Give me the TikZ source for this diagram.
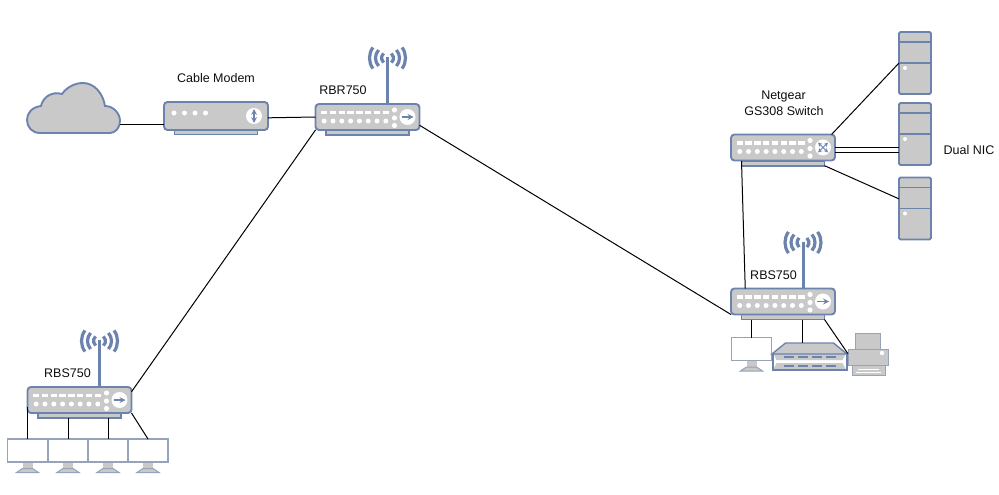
\documentclass[tikz,border=0pt]{standalone}
\usepackage{fontspec}
\setmainfont{Liberation Sans}
\definecolor{devblue}{HTML}{6C83AE}
\definecolor{devgray}{HTML}{C9C9C9}
\definecolor{monedge}{HTML}{97A3BB}
\tikzset{
  devbody/.style={draw=devblue,fill=devgray,line width=1.9pt,rounded corners=3.5pt,minimum width=104pt,minimum height=26pt,inner sep=0pt,outer sep=0pt},
  devbase/.style={draw=devblue,fill=devgray,line width=1.2pt,minimum width=83pt,minimum height=5pt,inner sep=0pt,outer sep=0pt},
  label/.style={font=\fontsize{12.5}{15}\selectfont,text=black!95,inner sep=0pt},
  link/.style={draw=black,line width=1pt},
  whitedot/.style={fill=white,draw=none},
  antenna/.style={draw=devblue,line width=3.2pt},
  portpanel/.pic={
    \foreach \i in {0,...,7} {
      \fill[whitedot] (-46.5+\i*8.8,-6.5) rectangle ++(6.4,3.6);
      \fill[whitedot] (-43.3+\i*8.8,4) circle (2.5pt);
    }
    \foreach \j in {-7,1,8.5} {\fill[whitedot] (27,\j) circle (2.6pt);}
  },
  switchdev/.pic={
    \node[devbase] (-base) at (0,16) {};
    \node[devbody] (-body) at (0,0) {};
    \pic {portpanel};
    \fill[white] (40,0) circle (8pt);
    \draw[devblue,line width=0.9pt,<->,>=stealth] (35,-5) -- (45,5);
    \draw[devblue,line width=0.9pt,<->,>=stealth] (35,5) -- (45,-5);
  },
  routerdev/.pic={
    \draw[devblue,line width=3pt] (20,-13) -- (20,-60);
    \foreach \r/\a in {6/50,12/42,18/36} {
      \draw[antenna] ([shift={(180-\a:\r pt)}]20,-59) arc[start angle=180-\a,end angle=180+\a,radius=\r pt];
      \draw[antenna] ([shift={(-\a:\r pt)}]20,-59) arc[start angle=-\a,end angle=\a,radius=\r pt];
    }
    \node[devbase] (-base) at (0,15.5) {};
    \node[devbody] (-body) at (0,0) {};
    \pic {portpanel};
    \fill[white] (40,0) circle (8pt);
    \draw[devblue,line width=1.6pt,->,>=stealth] (34,0) -- (46,0);
  },
  modemdev/.pic={
    \node[devbase] (-base) at (0,16) {};
    \node[devbody,minimum height=28pt] (-body) at (0,0) {};
    \foreach \i in {0,1,2,3} {\fill[whitedot] (-42+\i*10.5,-3) circle (2.5pt);}
    \fill[white] (38,0) circle (8pt);
    \draw[devblue,line width=1.6pt,<->,>=stealth] (38,-7) -- (38,7);
  },
  monitordev/.pic={
    \fill[devgray] (-5,12) rectangle (5,18);
    \draw[monedge,fill=devgray,line width=1pt] (-5,18) -- (5,18) -- (11,22) -- (-11,22) -- cycle;
    \node[draw=monedge,fill=white,line width=1.7pt,minimum width=40pt,minimum height=23pt,inner sep=0pt,outer sep=0pt] (-screen) at (0,0) {};
  },
  serverdev/.pic={
    \node[draw=devblue,fill=devgray,line width=1.9pt,rounded corners=1.5pt,minimum width=32pt,minimum height=62pt,inner sep=0pt,outer sep=0pt] (-case) at (0,0) {};
    \draw[devblue,line width=1.6pt] (-16,-21) -- (16,-21);
    \draw[devblue,line width=1.6pt] (-16,0) -- (16,0);
    \fill[whitedot] (-10,5) circle (2pt);
  },
  nasdev/.pic={
    \node[inner sep=0pt,outer sep=0pt,minimum width=48pt,minimum height=11pt] (-top) at (0,-7.5) {};
    \fill[devgray] (-33,7) -- (33,7) -- (36,13) -- (-36,13) -- cycle;
    \fill[devgray] (-36,-2) -- (36,-2) -- (33,4) -- (-33,4) -- cycle;
    \draw[devblue,fill=devgray,line width=1.4pt] (-24,-13) -- (24,-13) -- (37.5,-2) -- (-37.5,-2) -- cycle;
    \foreach \i in {0,1,2,3} {
      \fill[devblue] (-26+\i*14,0) rectangle ++(10,2);
      \fill[devblue] (-26+\i*14,9) rectangle ++(10,2);
    }
    \draw[devblue,line width=2pt] (-37,-2) -- (-37,14) -- (37,14) -- (37,-2);
  },
  printerdev/.pic={
    \draw[monedge,fill=devgray,line width=1pt] (-13,-24) rectangle (12,-8);
    \draw[monedge,fill=devgray,line width=1pt] (-16,8) -- (17,8) -- (17,18) -- (-16,18) -- cycle;
    \node[draw=monedge,fill=devgray,line width=1pt,minimum width=40pt,minimum height=16pt,inner sep=0pt,outer sep=0pt] (-body) at (0,0) {};
    \draw[white,line width=1pt] (-10,12) -- (11,12);
    \draw[white,line width=1pt] (-12,15) -- (13,15);
    \fill[whitedot] (14,-4) circle (2.2pt);
  }
}
\begin{document}
\begin{tikzpicture}[x=1pt,y=-1pt]
\useasboundingbox (0,0) rectangle (999,495);
% internet side
\draw[devblue,fill=devgray,line width=1.9pt] (40,133) .. controls (32,133) and (27,127) .. (27,120)
  .. controls (27,113) and (32,107) .. (41,106) .. controls (43,97) and (52,91) .. (62,94)
  .. controls (67,87) and (75,83) .. (83,83) .. controls (94,83) and (103,93) .. (105,106)
  .. controls (113,106) and (120,113) .. (120,121) .. controls (120,128) and (115,133) .. (110,133) -- cycle;
\coordinate (cloud) at (120,124);
\pic (modem) at (216,116) {modemdev};
\pic (rbr) at (367.5,117) {routerdev};
\pic (rbsl) at (79.5,400) {routerdev};
\pic (rbsr) at (783,301.5) {routerdev};
\pic (switch) at (783,147.5) {switchdev};
% servers
\pic (srva) at (915,63) {serverdev};
\pic (srvb) at (915,134) {serverdev};
\pic (srvc) at (915,208.5) {serverdev};
% desks
\pic (mona) at (27.5,450.5) {monitordev};
\pic (monb) at (68,450.5) {monitordev};
\pic (monc) at (108,450.5) {monitordev};
\pic (mond) at (148,450.5) {monitordev};
\pic (mone) at (751.5,349) {monitordev};
\pic (nas) at (809.5,356) {nasdev};
\pic (prt) at (868,357) {printerdev};
% labels
\node[label] (lmodem) at (216,78.5) {Cable Modem};
\node[label] (lrbr) at (343,90) {RBR750};
\node[label] (lnet) at (783.5,96) {Netgear};
\node[label] (lgs) at (784,111) {GS308 Switch};
\node[label] (lnic) at (969,150) {Dual NIC};
\node[label] (lrbsr) at (773.5,275) {RBS750};
\node[label] (lrbsl) at (67.5,373) {RBS750};
% links
\draw[link] (cloud) -- (cloud -| modem-body.west);
\draw[link] (modem-body.-2) -- (rbr-body.west);
\draw[link] (rbr-body.south west) -- (rbsl-body.9);
\draw[link] (rbr-body.-9) -- (rbsr-body.south west);
\draw[link] (switch-base.north west) -- (rbsr-body.161);
\draw[link] (switch-body.15) -- (srva-case.west);
\draw[link] (switch-body.east) -- (switch-body.east -| srvb-case.west);
\draw[link] (switch-body.-5) -- (switch-body.-5 -| srvb-case.west);
\draw[link] (switch-base.-3.9) -- (srvc-case.149);
\draw[link] (rbsr-base.south -| mone-screen.north) -- (mone-screen.north);
\draw[link] (rbsr-base.south -| nas-top.140) -- (nas-top.140);
\draw[link] (rbsr-base.south east) -- (prt-body.171);
\draw[link] (rbsl-body.188) -- (mona-screen.north);
\draw[link] (monb-screen.north |- rbsl-base.south) -- (monb-screen.north);
\draw[link] (monc-screen.north |- rbsl-base.south) -- (monc-screen.north);
\draw[link] (rbsl-body.south east) -- (mond-screen.north);
\end{tikzpicture}
\end{document}
